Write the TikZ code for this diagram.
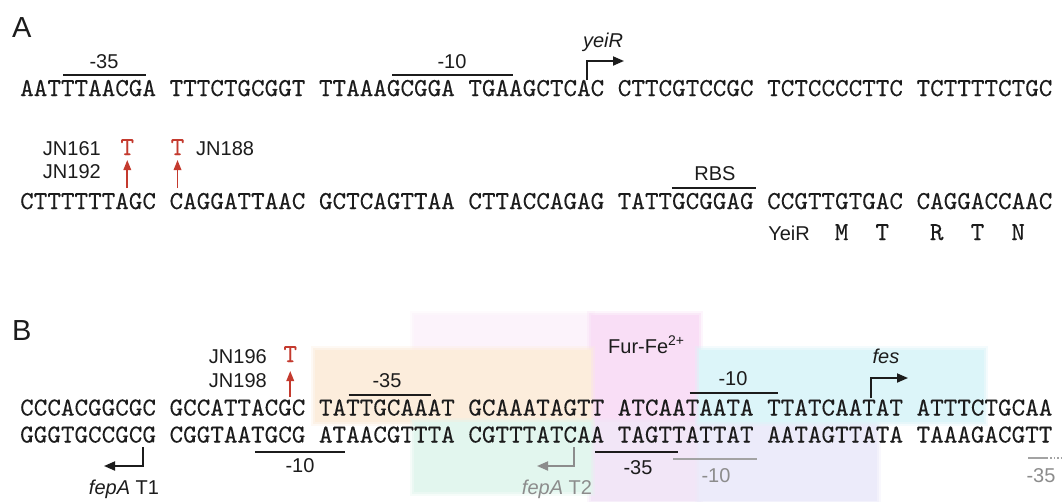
\documentclass[tikz,border=0pt]{standalone}
\usepackage{fontspec}
\setmainfont{Liberation Sans}
\newfontfamily\seqfam{lmmono10-regular.otf}[FakeBold=0.2]
\usetikzlibrary{arrows.meta}

% x position of the left edge of nucleotide number #1 (0-based) in a row
\newcommand\nx[1]{20+13.58*(#1)}
\newcommand\seqfont{\seqfam\fontsize{25.87}{28}\selectfont}
\newcommand\labfont{\fontsize{20}{22}\selectfont}
\newcommand\panelfont{\fontsize{29}{32}\selectfont}
% shaded region with a soft rim: colour, top-left corner, bottom-right corner
\newcommand\softregion[3]{%
  \fill[#1, opacity=0.3] ([shift={(-4,-4)}]#2) rectangle ([shift={(4,4)}]#3);
  \fill[#1, opacity=0.5] ([shift={(-2,-2)}]#2) rectangle ([shift={(2,2)}]#3);
  \fill[#1] (#2) rectangle (#3);}

\definecolor{ink}{RGB}{28,28,28}
\definecolor{mutred}{RGB}{196,58,46}
\definecolor{softgrey}{RGB}{140,140,140}
\definecolor{boxorange}{RGB}{252,237,220}
\definecolor{boxpink}{RGB}{249,222,246}
\definecolor{boxpinkpale}{RGB}{252,243,251}
\definecolor{boxcyan}{RGB}{220,245,249}
\definecolor{boxgreen}{RGB}{226,246,238}
\definecolor{boxlav}{RGB}{236,235,250}
\definecolor{boxmix}{RGB}{242,230,247}

\tikzset{
  seq/.style={inner sep=0pt, anchor=base west, font=\seqfont, text=ink},
  aa/.style={inner sep=0pt, anchor=base, font=\seqfont, text=ink},
  lab/.style={inner sep=0pt, anchor=base, font=\labfont, text=ink},
  labgrey/.style={lab, text=softgrey},
  panel/.style={inner sep=0pt, anchor=base west, font=\panelfont, text=ink},
  mut/.style={inner sep=0pt, anchor=base, font=\seqfont, text=mutred},
  bar/.style={draw=ink, line width=1.8pt},
  bargrey/.style={draw=softgrey!80, line width=1.6pt},
  tss/.style={draw=ink, line width=1.8pt, -{Triangle[length=11pt,width=9pt]}},
  tssgrey/.style={draw=softgrey, line width=1.8pt, -{Triangle[length=11pt,width=9pt]}},
  mutarrow/.style={draw=mutred, line width=1.7pt, -{Triangle[length=10pt,width=7.5pt]}}
}

\begin{document}
\begin{tikzpicture}[x=1pt,y=-1pt]
\useasboundingbox[fill=white] (0,0) rectangle (1062,501);

% ---------------- Panel A: yeiR promoter region ----------------
\node[panel] (pA) at (12,37) {A};

\node[seq] (A1) at (20,96) {AATTTAACGA TTTCTGCGGT TTAAAGCGGA TGAAGCTCAC CTTCGTCCGC TCTCCCCTTC TCTTTTCTGC};
\node[seq] (A2) at (20,209) {CTTTTTTAGC CAGGATTAAC GCTCAGTTAA CTTACCAGAG TATTGCGGAG CCGTTGTGAC CAGGACCAAC};

% -35 and -10 boxes
\draw[bar] ({\nx{3.2}},75) -- ({\nx{9.3}},75);
\node[lab] (a35) at (104,68) {-35};
\draw[bar] ({\nx{27.4}},75) -- ({\nx{36.3}},75);
\node[lab] (a10) at (452,68) {-10};

% yeiR transcription start
\coordinate (yS) at (587,80);
\coordinate (yK) at (587,61);
\coordinate (yE) at (624,61);
\draw[tss] (yS) -- (yK) -- (yE);
\node[lab, font=\labfont\itshape] (yeiR) at (603,47) {yeiR};

% point mutations
\node[lab, anchor=base east] (jn161) at (101,155) {JN161};
\node[lab, anchor=base east] (jn192) at (101,178) {JN192};
\node[mut] (m1) at ({\nx{7.9}},155) {T};
\coordinate (m1b) at ({\nx{7.9}},188);
\coordinate (m1t) at ({\nx{7.9}},160);
\draw[mutarrow] (m1b) -- (m1t);
\node[mut] (m2) at ({\nx{11.6}},155) {T};
\coordinate (m2b) at ({\nx{11.6}},188);
\coordinate (m2t) at ({\nx{11.6}},160);
\draw[mutarrow] (m2b) -- (m2t);
\node[lab, anchor=base west] (jn188) at (196,155) {JN188};

% ribosome binding site
\draw[bar] ({\nx{48}},188) -- ({\nx{54.2}},188);
\node[lab] (rbs) at (715,180) {RBS};

% translation start
\node[lab, anchor=base east] (yeir) at (810,240) {YeiR};
\node[aa] (aaM) at ({\nx{60.5}},240) {M};
\node[aa] (aaT1) at ({\nx{63.5}},240) {T};
\node[aa] (aaR) at ({\nx{67.5}},240) {R};
\node[aa] (aaT2) at ({\nx{70.5}},240) {T};
\node[aa] (aaN) at ({\nx{73.5}},240) {N};

% ---------------- Panel B: fepA / fes intergenic region ----------------
% shaded regions (Fur box, promoter elements)
\softregion{boxpinkpale}{414,315}{591,350}
\softregion{boxpink}{591,315}{699,422}
\softregion{boxmix}{591,422}{699,501}
\softregion{boxlav}{699,422}{877,501}
\softregion{boxorange}{315,350}{591,422}
\softregion{boxcyan}{699,350}{984,422}
\softregion{boxgreen}{414,422}{591,492}

\node[panel] (pB) at (12,340) {B};

\node[lab, anchor=base west] (fur) at (608,353) {Fur-Fe\textsuperscript{2+}};

\node[seq] (B1) at (20,415.5) {CCCACGGCGC GCCATTACGC TATTGCAAAT GCAAATAGTT ATCAATAATA TTATCAATAT ATTTCTGCAA};
\node[seq] (B2) at (20,442.5) {GGGTGCCGCG CGGTAATGCG ATAACGTTTA CGTTTATCAA TAGTTATTAT AATAGTTATA TAAAGACGTT};

% mutation
\node[lab, anchor=base east] (jn196) at (267,363) {JN196};
\node[lab, anchor=base east] (jn198) at (267,387) {JN198};
\node[mut] (m3) at ({\nx{19.9}},362) {T};
\coordinate (m3b) at ({\nx{19.9}},397);
\coordinate (m3t) at ({\nx{19.9}},371);
\draw[mutarrow] (m3b) -- (m3t);

% fes promoter (top strand)
\draw[bar] ({\nx{24.2}},395) -- ({\nx{30.3}},395);
\node[lab] (b35) at (387,387) {-35};
\draw[bar] ({\nx{49.3}},393) -- ({\nx{55.8}},393);
\node[lab] (b10) at (733,385) {-10};
\coordinate (fS) at (871,398);
\coordinate (fK) at (871,378);
\coordinate (fE) at (908,378);
\draw[tss] (fS) -- (fK) -- (fE);
\node[lab, font=\labfont\itshape] (fes) at (886,363) {fes};

% fepA promoters (bottom strand)
\draw[bar] ({\nx{17.3}},452) -- ({\nx{23.9}},452);
\node[lab] (c10) at (300,472) {-10};
\coordinate (t1S) at (143,447);
\coordinate (t1K) at (143,466);
\coordinate (t1E) at (104,466);
\draw[tss] (t1S) -- (t1K) -- (t1E);
\node[lab] (t1) at (124,494) {\textit{fepA} T1};

\draw[bar] (595,452) -- (678,452);
\node[lab] (c35) at (638,474) {-35};
\coordinate (t2S) at (574,447);
\coordinate (t2K) at (574,466);
\coordinate (t2E) at (537,466);
\draw[tssgrey] (t2S) -- (t2K) -- (t2E);
\node[labgrey] (t2) at (557,494) {\textit{fepA} T2};

\draw[bargrey] (673,459) -- (757,459);
\node[labgrey] (g10) at (716,482) {-10};
\draw[bargrey] (1028,458) -- (1047,458);
\draw[bargrey, line width=1.4pt, dotted] (1047,458) -- (1062,458);
\node[labgrey] (g35) at (1041,482) {-35};
\end{tikzpicture}
\end{document}
